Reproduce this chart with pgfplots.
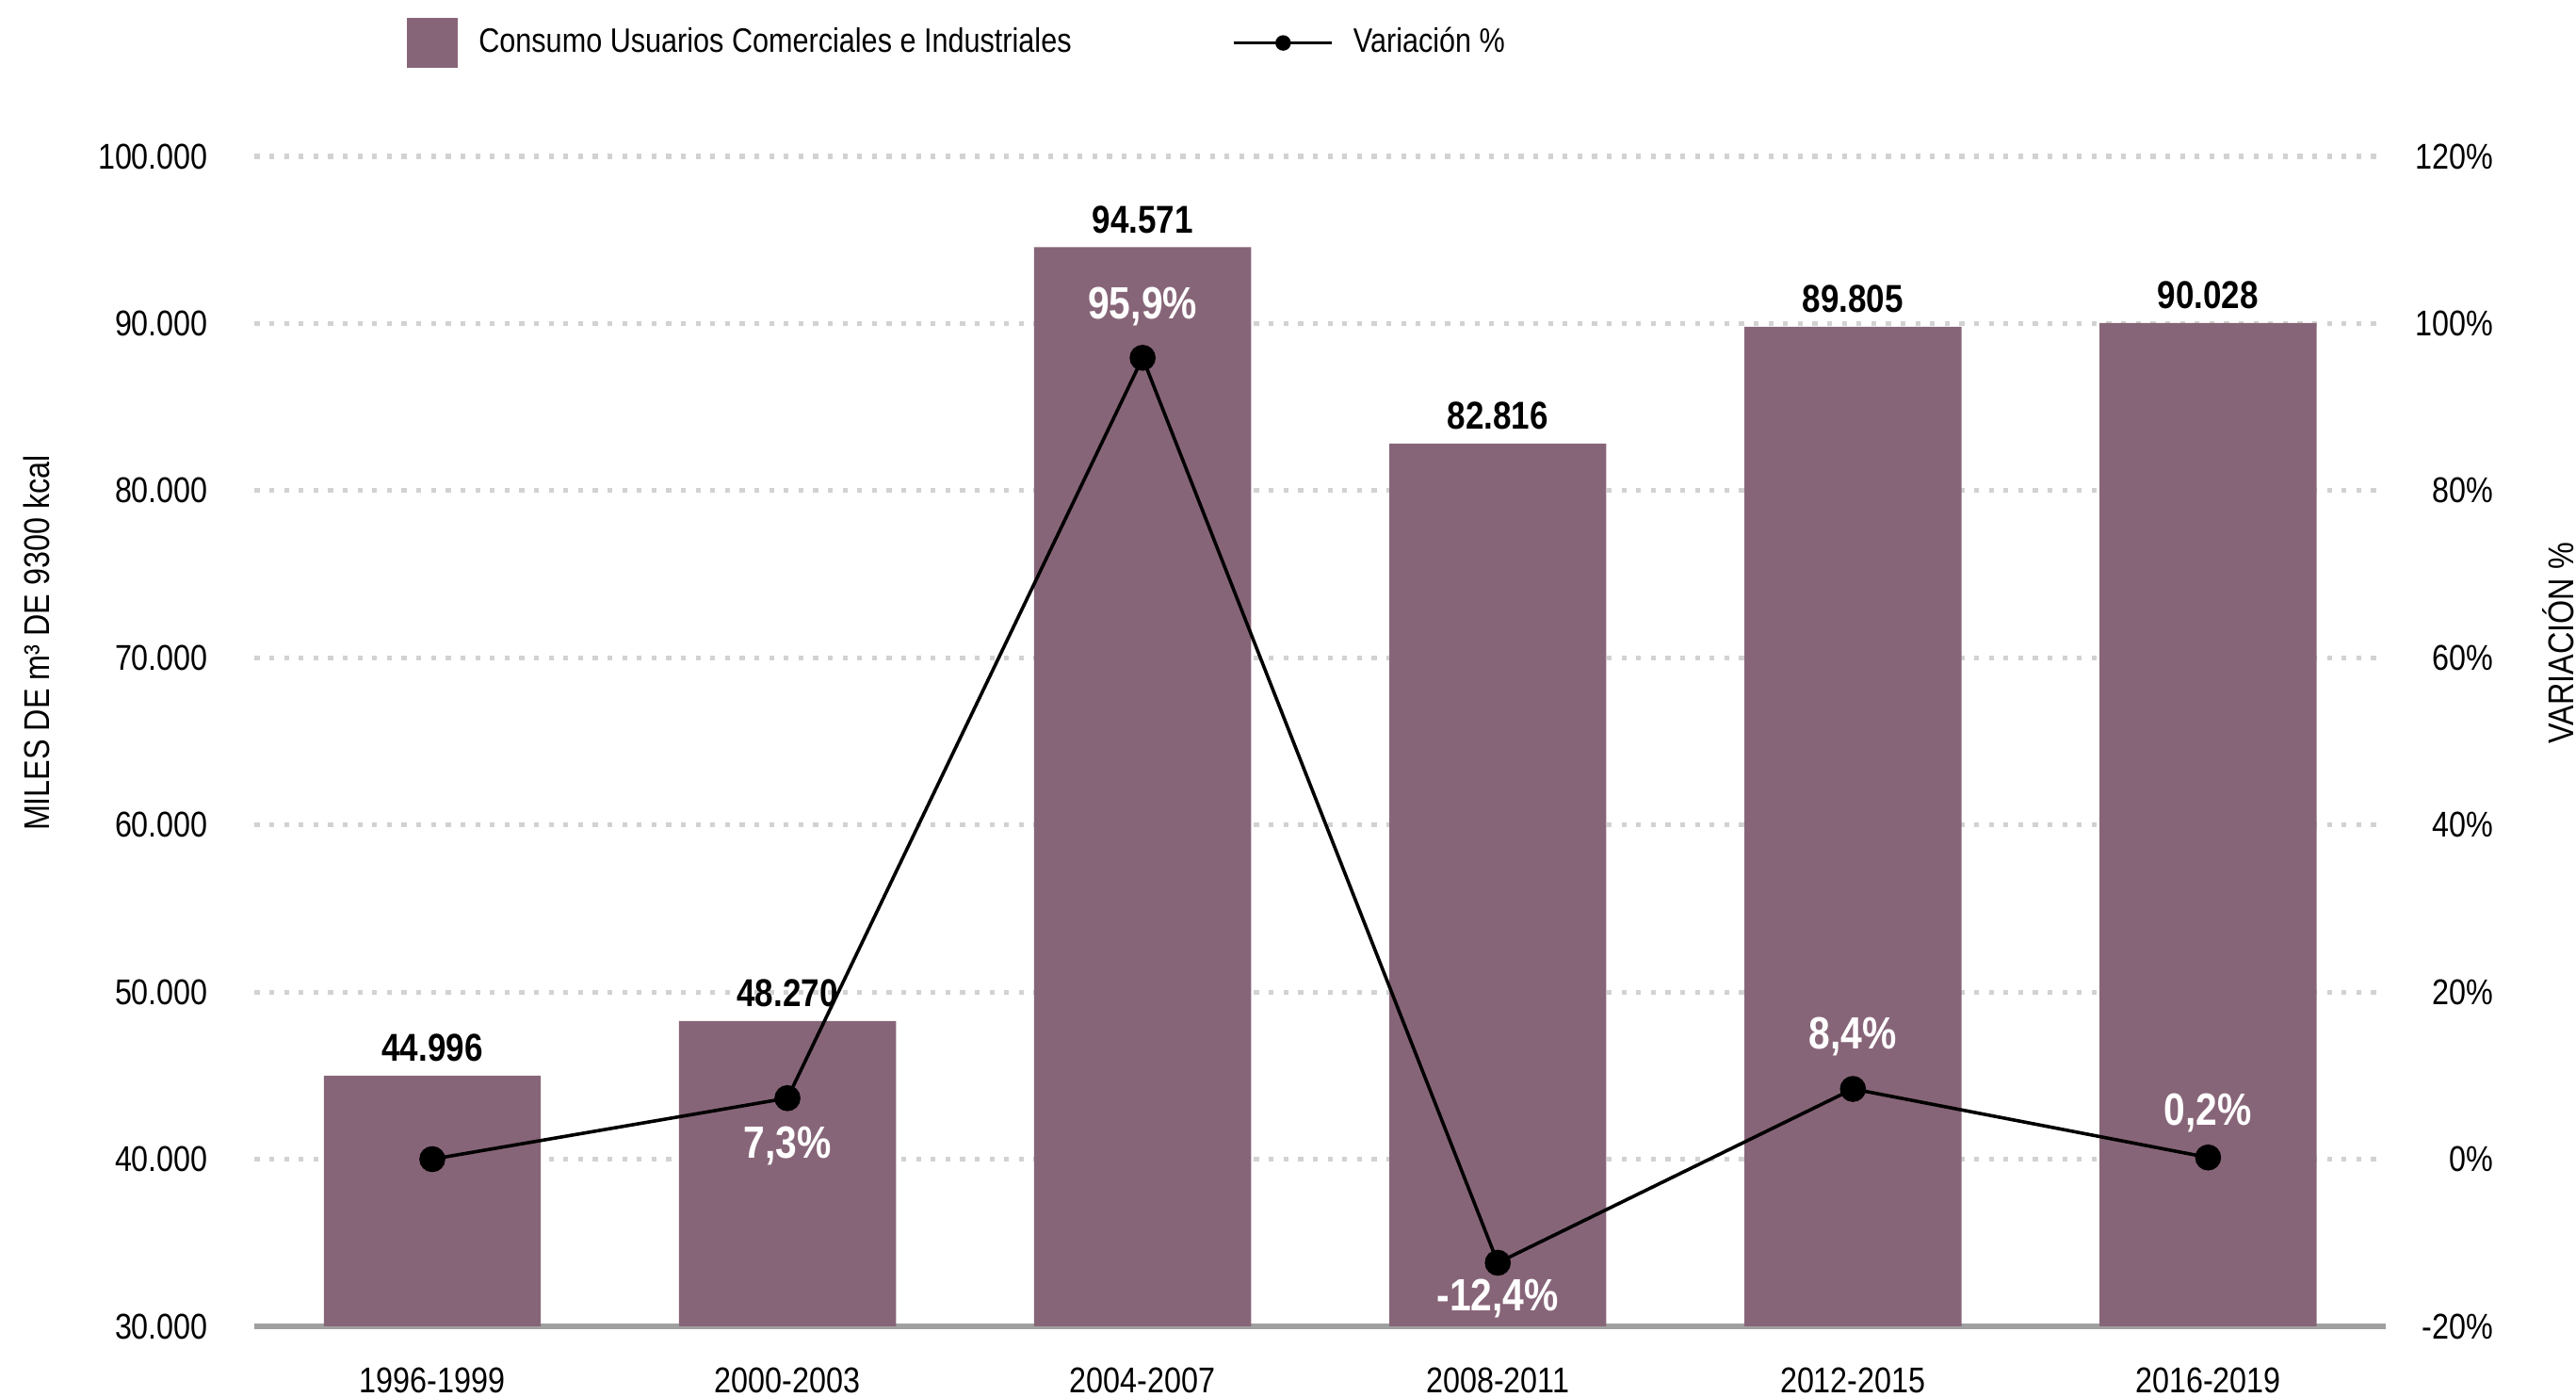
\documentclass[border=0pt]{standalone}
\usepackage{fontspec}
\setmainfont{Liberation Sans}[FakeStretch=0.85]
\usepackage{pgfplots}
\usepackage{pgfplotstable}
\pgfplotsset{compat=1.18}

\definecolor{barc}{HTML}{876578}
\definecolor{gridc}{HTML}{D2D2D2}
\definecolor{axc}{HTML}{A0A0A0}

\pgfplotstableread{
x y
0 44996
1 48270
2 94571
3 82816
4 89805
5 90028
}\bardata

\pgfplotstableread{
x y lab dy
0 0 {} 0
1 7.3 {7,3\%} -12.6
2 95.9 {95,9\%} 13.5
3 -12.4 {-12,4\%} -9.5
4 8.4 {8,4\%} 14
5 0.2 {0,2\%} 11.8
}\linedata

\begin{document}
\begin{tikzpicture}
\pgfplotsset{
  every axis/.append style={
    width=565.5pt, height=310.4pt, scale only axis,
    xmin=-0.5, xmax=5.5,
    /pgf/number format/assume math mode=true,
    tick style={draw=none},
    font=\fontsize{9.5}{11}\selectfont,
  }
}
% bars, left axis
\begin{axis}[
  ybar, bar width=57.6pt,
  ymin=30000, ymax=100000, scaled y ticks=false,
  ytick={30000,40000,50000,60000,70000,80000,90000,100000},
  yticklabels={30.000,40.000,50.000,60.000,70.000,80.000,90.000,100.000},
  xtick={0,...,5},
  xticklabels={1996-1999,2000-2003,2004-2007,2008-2011,2012-2015,2016-2019},
  axis x line*=bottom, axis y line*=left,
  x axis line style={axc, line width=1.3pt, -},
  y axis line style={draw=none},
  yticklabel style={anchor=east, inner sep=0pt, xshift=-12.2pt},
  xticklabel style={anchor=north, inner sep=0pt, yshift=-6.5pt},
  ymajorgrids,
  grid style={gridc, line width=1.3pt, dash pattern=on 1.3pt off 2.6pt},
  ylabel={MILES DE m³ DE 9300 kcal},
  ylabel style={at={(axis description cs:-0.1025,0.584)}, anchor=center, rotate=0},
  nodes near coords={\pgfmathprintnumber[1000 sep={.}]{\pgfplotspointmeta}},
  every node near coord/.append style={font=\fontsize{10.3}{12}\selectfont\bfseries, black, inner sep=0pt, yshift=3.5pt},
]
\addplot[fill=barc, draw=none] table[x=x, y=y] {\bardata};
\end{axis}
% line, right axis
\begin{axis}[
  ymin=-20, ymax=120,
  ytick={-20,0,20,40,60,80,100,120},
  yticklabels={-20\%,0\%,20\%,40\%,60\%,80\%,100\%,120\%},
  axis y line*=right, axis x line=none,
  y axis line style={draw=none},
  yticklabel style={anchor=east, inner sep=0pt, xshift=28.8pt},
  ylabel={VARIACIÓN \%},
  ylabel style={at={(axis description cs:1.081,0.584)}, anchor=center, rotate=0},
  legend style={at={(axis description cs:0.071,1.097)}, anchor=west, draw=none, fill=none,
    inner sep=0pt, font=\fontsize{9}{11}\selectfont,
    nodes={inner xsep=0pt, inner ysep=1pt},
    /tikz/every odd column/.append style={column sep=0pt},
    /tikz/every even column/.append style={column sep=42.7pt}},
  legend columns=2,
  legend cell align=left,
]
\addlegendimage{legend image code/.code={\fill[barc] (0pt,-6.5pt) rectangle (13pt,6.5pt); \path (18.7pt,0pt);}}
\addlegendentry{Consumo Usuarios Comerciales e Industriales}
\addplot[black, line width=0.9pt, mark=*, mark size=3pt,
  legend image code/.code={\draw[black, line width=0.9pt] (0pt,0pt) -- (26pt,0pt); \fill[black] (13pt,0pt) circle (1.6pt); \path (31.2pt,0pt);},
  point meta=explicit symbolic,
  visualization depends on={\thisrow{dy} \as \dy},
  nodes near coords,
  every node near coord/.append style={font=\fontsize{12}{14}\selectfont\bfseries, white, anchor=center, inner sep=0pt, yshift=\dy pt},
] table[x=x, y=y, meta=lab] {\linedata};
\addlegendentry{Variación \%}
\end{axis}
\pgfresetboundingbox
\path (-67.6pt,-18.7pt) rectangle (616pt,351.9pt);
\end{tikzpicture}
\end{document}
